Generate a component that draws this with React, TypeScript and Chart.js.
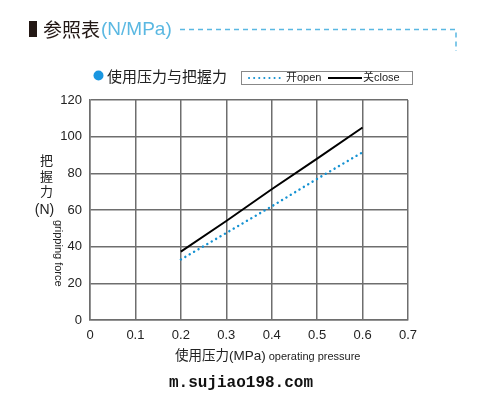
import React, { useEffect, useRef } from "react";
import { Chart, registerables } from "chart.js";

Chart.register(...registerables);

const pressures = [0.2, 0.3, 0.4, 0.5, 0.6];
const openForce = [33, 47.5, 62, 77, 91.5];
const closeForce = [37.3, 54, 71.3, 88, 105];
const xTickValues = [0, 0.1, 0.2, 0.3, 0.4, 0.5, 0.6, 0.7];
const yTickValues = [0, 20, 40, 60, 80, 100, 120];

const titleText = "参照表";
const titleUnit = "(N/MPa)";
const legendTitle = "使用压力与把握力";
const openLabel = "开open";
const closeLabel = "关close";
const yTitleCn = ["把", "握", "力", "(N)"];
const yTitleEn = "gripping force";
const xTitleCn = "使用压力(MPa)";
const xTitleEn = "operating pressure";
const watermark = "m.sujiao198.com";

const BLUE = "#1592d2";
const LIGHT_BLUE = "#5ab8e2";
const GRID = "#6e6e6e";
const SANS = '"Liberation Sans", "Noto Sans CJK SC", sans-serif';
const CJK = '"Noto Sans CJK SC", sans-serif';

const overlay = {
  id: "overlay",
  beforeDraw(chart: any) {
    const ctx = chart.ctx;
    ctx.save();
    ctx.fillStyle = "#ffffff";
    ctx.fillRect(0, 0, chart.width, chart.height);
    ctx.restore();
  },
  afterDraw(chart: any) {
    const ctx = chart.ctx;
    ctx.save();
    // header
    ctx.fillStyle = "#231815";
    ctx.fillRect(29, 21, 8, 16);
    ctx.textBaseline = "middle";
    ctx.textAlign = "left";
    ctx.font = "19px " + CJK;
    ctx.fillText(titleText, 43, 29.5);
    const tw = ctx.measureText(titleText).width;
    ctx.fillStyle = LIGHT_BLUE;
    ctx.font = "19px " + SANS;
    ctx.fillText(titleUnit, 43 + tw + 1, 30);
    ctx.strokeStyle = LIGHT_BLUE;
    ctx.lineWidth = 1.5;
    ctx.setLineDash([5, 4]);
    ctx.beginPath();
    ctx.moveTo(180, 29.5);
    ctx.lineTo(456, 29.5);
    ctx.lineTo(456, 51);
    ctx.stroke();
    ctx.setLineDash([]);

    // legend row
    ctx.fillStyle = "#1a96e0";
    ctx.beginPath();
    ctx.arc(98.5, 75.5, 5, 0, Math.PI * 2);
    ctx.fill();
    ctx.fillStyle = "#222";
    ctx.font = "15px " + CJK;
    ctx.fillText(legendTitle, 107, 76);
    ctx.strokeStyle = "#888";
    ctx.lineWidth = 1;
    ctx.strokeRect(241.5, 71.5, 171, 13);
    // open sample
    ctx.strokeStyle = BLUE;
    ctx.lineWidth = 2;
    ctx.lineCap = "round";
    ctx.setLineDash([0.1, 5]);
    ctx.beginPath();
    ctx.moveTo(249, 78);
    ctx.lineTo(281, 78);
    ctx.stroke();
    ctx.setLineDash([]);
    ctx.lineCap = "butt";
    ctx.fillStyle = "#222";
    ctx.font = "11px " + SANS;
    ctx.fillText(openLabel, 286, 78);
    ctx.strokeStyle = "#000";
    ctx.lineWidth = 2;
    ctx.beginPath();
    ctx.moveTo(328, 78);
    ctx.lineTo(362, 78);
    ctx.stroke();
    ctx.fillText(closeLabel, 363, 78);

    // y title
    ctx.textAlign = "center";
    ctx.font = "13px " + CJK;
    ctx.fillText(yTitleCn[0], 46.5, 160);
    ctx.fillText(yTitleCn[1], 46.5, 176);
    ctx.fillText(yTitleCn[2], 46.5, 191);
    ctx.font = "14px " + SANS;
    ctx.fillText(yTitleCn[3], 44.5, 210);
    ctx.save();
    ctx.translate(58, 220);
    ctx.rotate(Math.PI / 2);
    ctx.textAlign = "left";
    ctx.font = "11px " + SANS;
    ctx.fillText(yTitleEn, 0, 0);
    ctx.restore();

    // x title
    ctx.textAlign = "left";
    ctx.font = "13.5px " + SANS;
    ctx.fillText(xTitleCn, 175, 356);
    const xw = ctx.measureText(xTitleCn).width;
    ctx.font = "11px " + SANS;
    ctx.fillText(xTitleEn, 175 + xw + 3, 357);

    // watermark
    ctx.font = 'bold 16px "Liberation Mono", monospace';
    ctx.fillStyle = "#111";
    ctx.fillText(watermark, 169, 383);
    ctx.restore();
  },
};

export default function App() {
  const ref = useRef<HTMLCanvasElement | null>(null);
  useEffect(() => {
    if (!ref.current) return;
    const chart = new Chart(ref.current, {
      type: "line",
      data: {
        datasets: [
          {
            label: openLabel,
            data: pressures.map((p, i) => ({ x: p, y: openForce[i] })),
            borderColor: BLUE,
            borderWidth: 2.4,
            borderDash: [0.1, 5],
            borderCapStyle: "round",
            pointRadius: 0,
            fill: false,
          },
          {
            label: closeLabel,
            data: pressures.map((p, i) => ({ x: p, y: closeForce[i] })),
            borderColor: "#000",
            borderWidth: 2,
            pointRadius: 0,
            fill: false,
          },
        ],
      },
      options: {
        responsive: false,
        animation: false,
        layout: { padding: { left: 0, right: 73, top: 100, bottom: 0 } },
        plugins: { legend: { display: false }, tooltip: { enabled: false } },
        scales: {
          x: {
            type: "linear",
            min: 0,
            max: 0.7,
            afterBuildTicks: (s: any) => {
              s.ticks = xTickValues.map((v) => ({ value: v }));
            },
            afterFit: (s: any) => {
              s.height = 78;
            },
            ticks: {
              color: "#222",
              font: { size: 13, family: SANS },
              padding: 8,
              maxRotation: 0,
              callback: (v: any) => (v === 0 ? "0" : Number(v).toFixed(1)),
            },
            grid: { color: GRID, lineWidth: 1.5, drawTicks: false },
            border: { color: GRID, width: 1.5 },
          },
          y: {
            min: 0,
            max: 120,
            afterBuildTicks: (s: any) => {
              s.ticks = yTickValues.map((v) => ({ value: v }));
            },
            afterFit: (s: any) => {
              s.width = 90;
            },
            ticks: {
              color: "#222",
              font: { size: 13, family: SANS },
              padding: 8,
            },
            grid: { color: GRID, lineWidth: 1.5, drawTicks: false },
            border: { color: GRID, width: 1.5 },
          },
        },
      },
      plugins: [overlay],
    } as any);
    return () => chart.destroy();
  }, []);
  return (
    <div style={{ position: "absolute", left: 0, top: 0, width: 481, height: 398 }}>
      <canvas ref={ref} width={481} height={398} style={{ display: "block" }} />
    </div>
  );
}
